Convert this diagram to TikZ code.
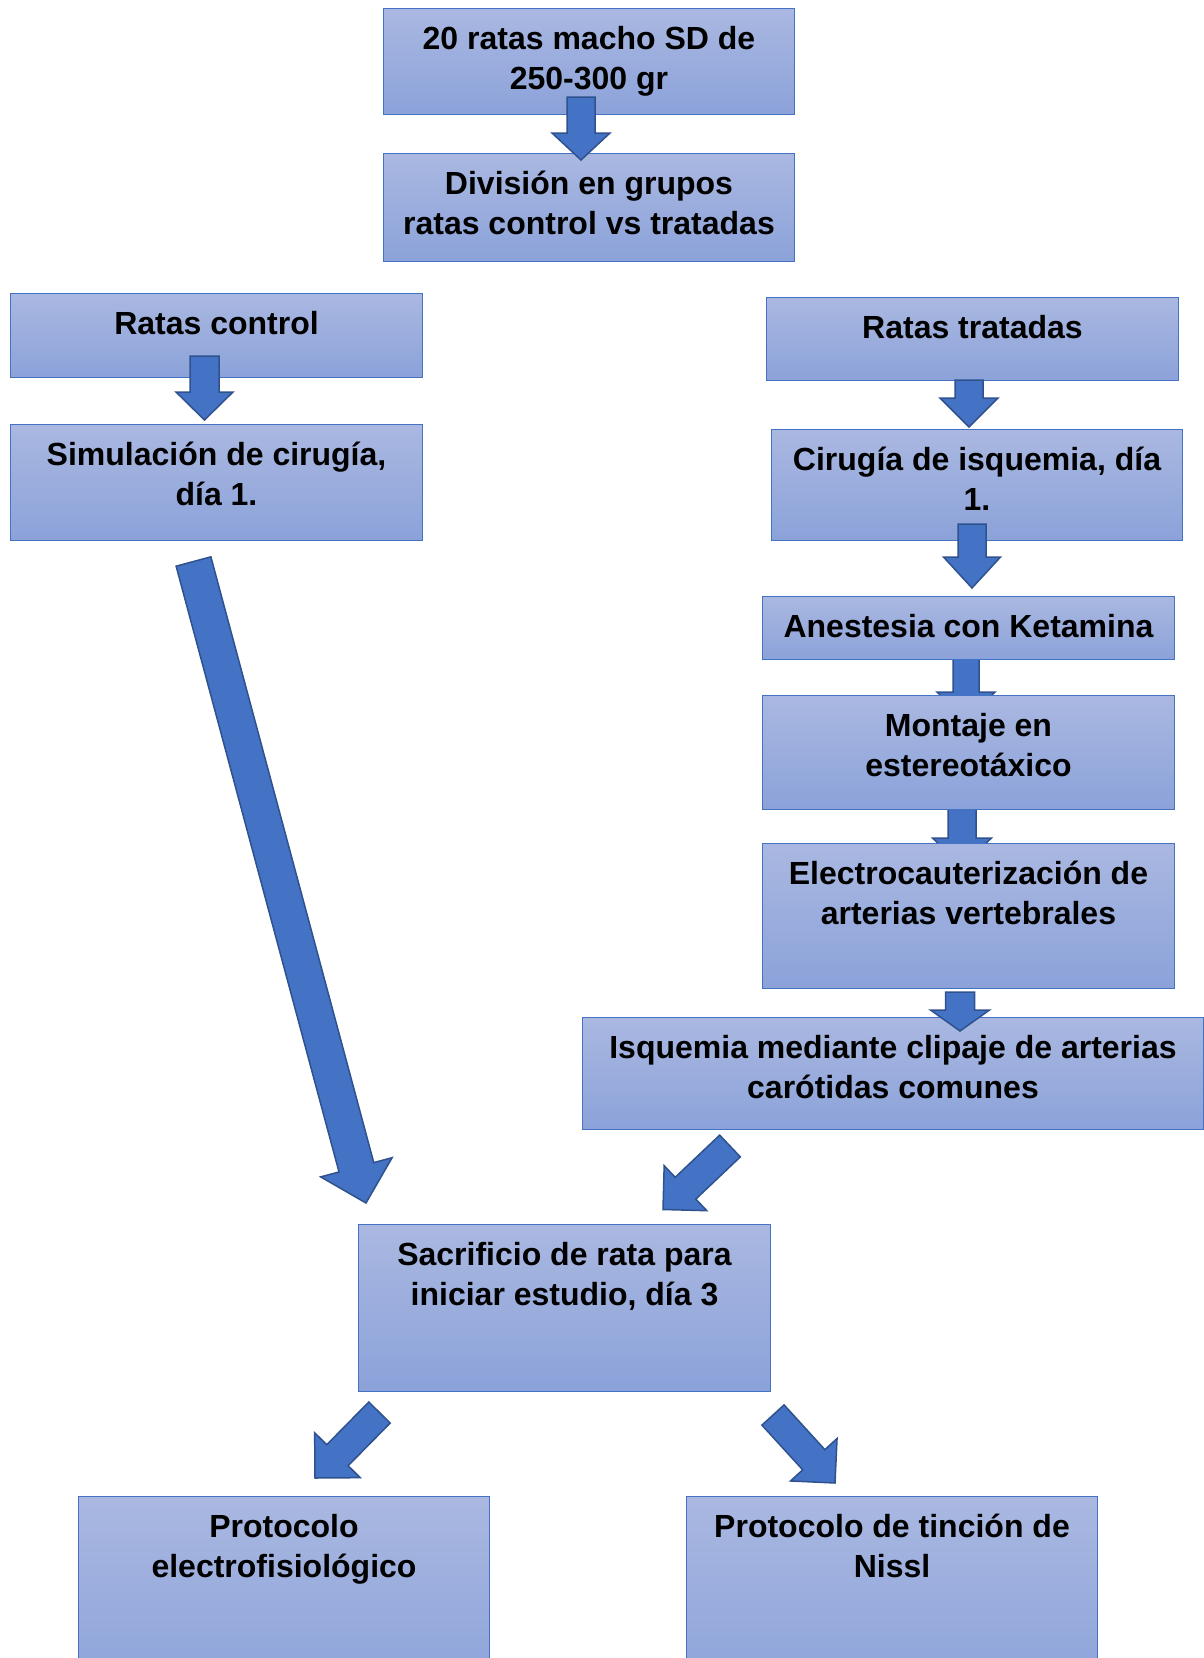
\documentclass[tikz,border=0pt]{standalone}
\usepackage{fontspec}
\setmainfont{Liberation Sans}
\usetikzlibrary{positioning,calc}

\definecolor{cajaarriba}{RGB}{170,184,225}
\definecolor{cajaabajo}{RGB}{139,162,217}
\definecolor{azul}{RGB}{68,114,196}
\definecolor{azuloscuro}{RGB}{47,82,143}

% flecha gruesa: cola, punta, medio cuerpo, media cabeza, largo de cabeza
\newcommand{\flecha}[5]{%
\coordinate (fh) at ($(#2)!#5!(#1)$);
\draw[flechagruesa] ($(#1)!#3!90:(#2)$) -- ($(fh)!#3!90:(#2)$) -- ($(fh)!#4!90:(#2)$) -- (#2)
  -- ($(fh)!#4!-90:(#2)$) -- ($(fh)!#3!-90:(#2)$) -- ($(#1)!#3!-90:(#2)$) -- cycle;
}

\begin{document}
\begin{tikzpicture}[x=1pt,y=-1pt,
  caja/.style={draw=azul,line width=1pt,top color=cajaarriba,bottom color=cajaabajo,anchor=north west,inner sep=0pt},
  texto/.style={font=\fontsize{32}{40}\selectfont\bfseries,align=center,inner sep=0pt},
  flechagruesa/.style={fill=azul,draw=azuloscuro,line width=1.5pt,line join=miter}]
\useasboundingbox (0,0) rectangle (1204,1658);

% extremos de las flechas
\coordinate (c1) at (581,97);    \coordinate (p1) at (581,160);
\coordinate (c2) at (204.5,356); \coordinate (p2) at (204.5,420);
\coordinate (c3) at (969,380);   \coordinate (p3) at (969,427);
\coordinate (c4) at (972,524);   \coordinate (p4) at (972,588);
\coordinate (c5) at (966,659);   \coordinate (p5) at (966,720);
\coordinate (c6) at (962,809);   \coordinate (p6) at (962,866);
\coordinate (c7) at (960,992);   \coordinate (p7) at (960,1031);
\coordinate (c8) at (193.5,561.5); \coordinate (p8) at (366,1203);
\coordinate (c9) at (730,1146);  \coordinate (p9) at (663,1209.5);
\coordinate (c10) at (379.5,1412.5); \coordinate (p10) at (315,1478);
\coordinate (c11) at (773,1415); \coordinate (p11) at (835,1483);

% estas quedan debajo de las cajas
\flecha{c5}{p5}{13pt}{29pt}{28pt}
\flecha{c6}{p6}{14pt}{29.5pt}{28pt}

\node[caja,minimum width=411pt,minimum height=106pt] (ratas) at (383,8) {};
\node[caja,minimum width=411pt,minimum height=108pt] (division) at (383,153) {};
\node[caja,minimum width=412pt,minimum height=84pt] (control) at (10,293) {};
\node[caja,minimum width=412pt,minimum height=116pt] (simulacion) at (10,424) {};
\node[caja,minimum width=412pt,minimum height=83pt] (tratadas) at (766,297) {};
\node[caja,minimum width=411pt,minimum height=111pt] (cirugia) at (771,429) {};
\node[caja,minimum width=412pt,minimum height=63pt] (anestesia) at (762,596) {};
\node[caja,minimum width=412pt,minimum height=114pt] (montaje) at (762,695) {};
\node[caja,minimum width=412pt,minimum height=145pt] (electro) at (762,843) {};
\node[caja,minimum width=621pt,minimum height=112pt] (isquemia) at (582,1017) {};
\node[caja,minimum width=412pt,minimum height=167pt] (sacrificio) at (358,1224) {};
\node[caja,minimum width=411pt,minimum height=200pt] (electrofis) at (78,1496) {};
\node[caja,minimum width=411pt,minimum height=200pt] (nissl) at (686,1496) {};

\node[texto,below=18pt of ratas.north] (tratas) {20 ratas macho SD de\\250-300 gr};
\node[texto,below=18pt of division.north] (tdivision) {División en grupos\\ratas control vs tratadas};
\node[texto,below=18pt of control.north] (tcontrol) {Ratas control};
\node[texto,below=18pt of simulacion.north] (tsimulacion) {Simulación de cirugía,\\día 1.};
\node[texto,below=18pt of tratadas.north] (ttratadas) {Ratas tratadas};
\node[texto,below=18pt of cirugia.north] (tcirugia) {Cirugía de isquemia, día\\1.};
\node[texto,below=18pt of anestesia.north] (tanestesia) {Anestesia con Ketamina};
\node[texto,below=18pt of montaje.north] (tmontaje) {Montaje en\\estereotáxico};
\node[texto,below=18pt of electro.north] (telectro) {Electrocauterización de\\arterias vertebrales};
\node[texto,below=18pt of isquemia.north] (tisquemia) {Isquemia mediante clipaje de arterias\\carótidas comunes};
\node[texto,below=18pt of sacrificio.north] (tsacrificio) {Sacrificio de rata para\\iniciar estudio, día 3};
\node[texto,below=18pt of electrofis.north] (telectrofis) {Protocolo\\electrofisiológico};
\node[texto,below=18pt of nissl.north] (tnissl) {Protocolo de tinción de\\Nissl};

\flecha{c1}{p1}{14pt}{29pt}{27pt}
\flecha{c2}{p2}{14.5pt}{28.5pt}{28pt}
\flecha{c3}{p3}{14pt}{29pt}{29pt}
\flecha{c4}{p4}{14pt}{28.5pt}{31pt}
\flecha{c7}{p7}{14.5pt}{29.5pt}{21pt}
\flecha{c8}{p8}{18pt}{37pt}{37pt}
\flecha{c9}{p9}{15pt}{31pt}{31pt}
\flecha{c10}{p10}{15pt}{32pt}{32pt}
\flecha{c11}{p11}{15pt}{31.5pt}{31.5pt}
\end{tikzpicture}
\end{document}
